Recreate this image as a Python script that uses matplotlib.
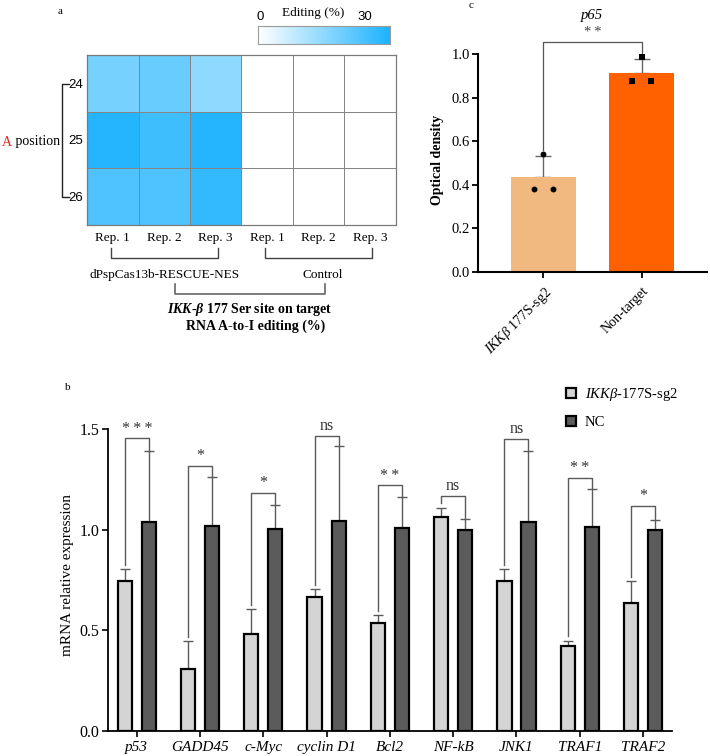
"""Composite figure: A-to-I editing heatmap (a), qPCR bars (b), p65 optical density (c)."""

import matplotlib
matplotlib.use("Agg")
import matplotlib.pyplot as plt
import numpy as np
from matplotlib.colors import LinearSegmentedColormap

plt.rcParams["font.family"] = ["Liberation Serif", "DejaVu Sans"]
plt.rcParams["mathtext.fontset"] = "custom"
plt.rcParams["mathtext.rm"] = "Liberation Serif"
plt.rcParams["mathtext.it"] = "Liberation Serif:italic"
plt.rcParams["mathtext.bf"] = "Liberation Serif:bold"
plt.rcParams["mathtext.bfit"] = "Liberation Serif:bold:italic"

# ---- panel a: editing (%) per A position and replicate
positions = ["24", "25", "26"]
reps = ["Rep. 1", "Rep. 2", "Rep. 3", "Rep. 1", "Rep. 2", "Rep. 3"]
editing = [
    [18, 20, 15, 0, 0, 0],
    [29, 25.5, 29, 0, 0, 0],
    [23.5, 23.5, 27, 0, 0, 0],
]

# ---- panel b: mRNA relative expression
genes = ["p53", "GADD45", "c-Myc", "cyclin D1", "Bcl2", "NF-kB", "JNK1", "TRAF1", "TRAF2"]
sg2_mean = [0.747, 0.306, 0.482, 0.667, 0.538, 1.062, 0.747, 0.424, 0.637]
sg2_sd = [0.056, 0.141, 0.123, 0.037, 0.038, 0.046, 0.056, 0.025, 0.108]
nc_mean = [1.040, 1.017, 1.005, 1.045, 1.008, 1.000, 1.040, 1.012, 0.999]
nc_sd = [0.350, 0.245, 0.118, 0.371, 0.156, 0.055, 0.350, 0.188, 0.048]
sig_top = [1.454, 1.318, 1.184, 1.467, 1.220, 1.167, 1.450, 1.258, 1.119]
sig_text = ["***", "*", "*", "ns", "**", "ns", "ns", "**", "*"]

# ---- panel c: p65 optical density
c_groups = ["$\\mathit{IKK\u03b2}$ 177S-sg2", "Non-target"]
c_mean = [0.438, 0.914]
c_sd = [0.094, 0.063]
c_points = [[0.382, 0.543, 0.382], [0.877, 0.986, 0.877]]
c_sig_top = 1.055

W, H = 710, 756
fig = plt.figure(figsize=(W / 100, H / 100), dpi=100)


def box(x0, y0, x1, y1):
    # pixel box (top-left origin) -> figure fraction rect
    return [x0 / W, 1 - y1 / H, (x1 - x0) / W, (y1 - y0) / H]


def stars(s):
    # GraphPad-style spaced asterisks
    return "\u2009".join(s) if s.startswith("*") else s


ov = fig.add_axes([0, 0, 1, 1], zorder=5)
ov.set_xlim(0, W)
ov.set_ylim(H, 0)
ov.axis("off")
ov.patch.set_alpha(0)

grey = "#5a5a5a"

# ================= panel a =================
cmap = LinearSegmentedColormap.from_list("edit", ["#ffffff", "#1db3fe"])
ax_a = fig.add_axes(box(87, 55, 396, 225))
ax_a.pcolormesh(np.arange(len(reps) + 1), np.arange(len(positions) + 1), np.array(editing),
                cmap=cmap, vmin=0, vmax=30, edgecolors="#858585", linewidth=0.7)
ax_a.set_xlim(0, len(reps))
ax_a.set_ylim(len(positions), 0)
ax_a.set_xticks(np.arange(len(reps)) + 0.5)
ax_a.set_xticklabels(reps, fontsize=9.5)
ax_a.set_yticks(np.arange(len(positions)) + 0.5)
ax_a.set_yticklabels(positions, fontsize=9.5, family="Liberation Sans")
ax_a.tick_params(length=0, pad=5)
ax_a.tick_params(axis="y", pad=3)
for s in ax_a.spines.values():
    s.set_color("#7a7a7a")
    s.set_linewidth(0.9)

cax = fig.add_axes(box(258, 26, 390, 44))
cax.imshow(np.linspace(0, 30, 200)[None, :], cmap=cmap, aspect="auto", vmin=0, vmax=30)
cax.set_xticks([])
cax.set_yticks([])
for s in cax.spines.values():
    s.set_color("#9a9a9a")
    s.set_linewidth(0.8)

ov.text(260, 17, "0", fontsize=9.5, family="Liberation Sans", ha="center", va="center")
ov.text(365, 17, "30", fontsize=9.5, family="Liberation Sans", ha="center", va="center")
ov.text(313, 13, "Editing (%)", fontsize=9.5, ha="center", va="center")
ov.text(60, 11, "a", fontsize=8, ha="center", va="center")

# left bracket and label
ov.plot([69, 62, 62, 69], [84, 84, 197, 197], color="#222222", lw=1.0)
ov.text(2, 142, "A", color="#e8251f", fontsize=10, ha="left", va="center")
ov.text(12, 142, " position", fontsize=10, ha="left", va="center")

# group brackets below heatmap
for x0, x1 in [(111, 218), (265, 372)]:
    ov.plot([x0, x0, x1, x1], [248, 258, 258, 248], color="#444444", lw=1.0)
ov.text(165, 275, "dPspCas13b-RESCUE-NES", fontsize=9.5, ha="center", va="center")
ov.text(323, 275, "Control", fontsize=9.5, ha="center", va="center")
ov.plot([175, 175, 325, 325], [284, 294, 294, 284], color="#666666", lw=1.2)
ov.text(250, 309, "$\\mathbfit{IKK\\text{-}\u03b2}$ $\\mathbf{177\\ Ser\\ site\\ on\\ target}$",
        fontsize=10, ha="center", va="center")
ov.text(256, 326, "RNA A-to-I editing (%)", fontsize=10, fontweight="bold", ha="center", va="center")

# ================= panel c =================
ax_c = fig.add_axes(box(478, 54, 707, 272))
xc = np.arange(len(c_groups))
ax_c.errorbar(xc, c_mean, yerr=[np.zeros(len(xc)), c_sd], fmt="none", ecolor="#666666",
              elinewidth=1.0, capsize=5.5, capthick=1.0, zorder=1)
ax_c.bar(xc, c_mean, width=0.663, color=["#f1b87f", "#ff6100"], zorder=2)
for i, pts in enumerate(c_points):
    offs = np.array([-0.092, 0.0, 0.092])
    marker = "o" if i == 0 else "s"
    ax_c.scatter(xc[i] + offs, pts, marker=marker, s=18, color="black", zorder=4, linewidths=0)
ax_c.plot([0, 0, 1, 1], [c_points[0][1] + 0.015, c_sig_top, c_sig_top, c_mean[1] + c_sd[1]],
          color="#555555", lw=0.9, clip_on=False)
ax_c.text(0.5, c_sig_top + 0.012, stars("**"), fontsize=10.5, color="#444444", ha="center", va="bottom")
ax_c.set_xlim(-0.668, 1.668)
ax_c.set_ylim(0, 1.0)
ax_c.set_yticks(np.arange(0, 1.01, 0.2))
ax_c.set_yticklabels([f"{v:.1f}" for v in np.arange(0, 1.01, 0.2)], fontsize=10.5)
ax_c.set_xticks(xc)
ax_c.set_xticklabels(c_groups, fontsize=10, rotation=45, ha="right", rotation_mode="anchor")
ax_c.tick_params(width=1.3, length=4, pad=2)
ax_c.tick_params(axis="x", pad=5)
ax_c.spines[["top", "right"]].set_visible(False)
for s in ["left", "bottom"]:
    ax_c.spines[s].set_linewidth(1.5)
ov.text(437, 160, "Optical density", fontsize=10, fontweight="bold", rotation=90, ha="center", va="center")
ov.text(592, 15, "p65", fontsize=10.5, style="italic", ha="center", va="center")
ov.text(471, 5, "c", fontsize=8, ha="center", va="center")

# ================= panel b =================
ax_b = fig.add_axes(box(108, 429, 672, 731))
xb = np.arange(len(genes))
off, bw = 0.19, 0.225
ax_b.errorbar(xb - off, sg2_mean, yerr=[np.zeros(len(xb)), sg2_sd], fmt="none", ecolor=grey,
              elinewidth=1.0, capsize=3.5, capthick=1.0, zorder=1)
ax_b.errorbar(xb + off, nc_mean, yerr=[np.zeros(len(xb)), nc_sd], fmt="none", ecolor=grey,
              elinewidth=1.0, capsize=3.5, capthick=1.0, zorder=1)
ax_b.bar(xb - off, sg2_mean, width=bw, color="#d4d4d4", edgecolor="black", linewidth=1.6,
         zorder=2, label="$\\mathit{IKK\u03b2}$-177S-sg2")
ax_b.bar(xb + off, nc_mean, width=bw, color="#5b5b5b", edgecolor="black", linewidth=1.6,
         zorder=2, label="NC")
for i in range(len(genes)):
    left_bot = sg2_mean[i] + sg2_sd[i] + 0.022
    right_bot = nc_mean[i] + nc_sd[i]
    ax_b.plot([xb[i] - off, xb[i] - off, xb[i] + off, xb[i] + off],
              [left_bot, sig_top[i], sig_top[i], right_bot], color=grey, lw=1.0, clip_on=False)
    ax_b.text(xb[i], sig_top[i] + 0.008, stars(sig_text[i]), fontsize=11.5, color="#333333",
              ha="center", va="bottom")
ax_b.set_xlim(-0.455, len(genes) - 1 + 0.458)
ax_b.set_ylim(0, 1.5)
ax_b.set_yticks([0, 0.5, 1.0, 1.5])
ax_b.set_yticklabels(["0.0", "0.5", "1.0", "1.5"], fontsize=11.5)
ax_b.set_xticks(xb)
ax_b.set_xticklabels(genes, fontsize=11, style="italic")
ax_b.tick_params(width=1.2, length=4, pad=2)
ax_b.tick_params(axis="x", pad=3)
ax_b.spines[["top", "right"]].set_visible(False)
for s in ["left", "bottom"]:
    ax_b.spines[s].set_linewidth(1.3)
ax_b.legend(loc="upper left", bbox_to_anchor=(560 / W, 1 - 380 / H), bbox_transform=fig.transFigure,
            frameon=False, fontsize=10.5, handlelength=0.7, handleheight=0.7, handletextpad=0.6,
            labelspacing=0.9, borderaxespad=0)
ov.text(68, 575, "mRNA relative expression", fontsize=11, rotation=90, ha="center", va="center")
ov.text(68, 388, "b", fontsize=8, ha="center", va="center")

fig.savefig("out.png", dpi=100)
